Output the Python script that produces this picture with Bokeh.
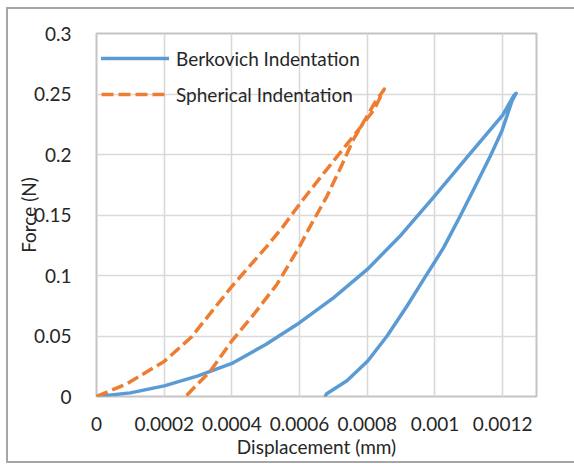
from bokeh.plotting import figure
from bokeh.models import FixedTicker, Legend, LegendItem
from bokeh.embed import file_html
from bokeh.resources import INLINE

# ---- data ----
berk_load_x = [0, 0.0001, 0.0002, 0.0003, 0.0004, 0.0005, 0.0006, 0.0007,
               0.0008, 0.0009, 0.001, 0.0011, 0.0012, 0.001233, 0.00124]
berk_load_y = [0, 0.003, 0.0088, 0.017, 0.0273, 0.043, 0.061, 0.0815,
               0.105, 0.1335, 0.166, 0.1995, 0.2325, 0.2487, 0.2506]

berk_unload_x = [0.00124, 0.001228, 0.001198, 0.001164, 0.001115, 0.001075,
                 0.001026, 0.001001, 0.000967, 0.000918, 0.000859, 0.000802,
                 0.00074, 0.000679, 0.000676]
berk_unload_y = [0.2506, 0.2445, 0.2197, 0.199, 0.1715, 0.1494,
                 0.1232, 0.112, 0.097, 0.075, 0.0502, 0.0295,
                 0.013, 0.002, 0.0]

sph_load_x = [0, 0.00009, 0.0002, 0.00028, 0.0004, 0.0005, 0.00055, 0.0006,
              0.00065, 0.00072, 0.00078, 0.00082, 0.00085]
sph_load_y = [0, 0.0105, 0.029, 0.049, 0.091, 0.123, 0.140, 0.159,
              0.177, 0.2015, 0.2225, 0.237, 0.254]

sph_unload_x = [0.00085, 0.00082, 0.0008, 0.00076, 0.000726, 0.00068, 0.00063,
                0.0006, 0.000534, 0.000465, 0.0004, 0.000337, 0.000263]
sph_unload_y = [0.254, 0.2418, 0.232, 0.213, 0.192, 0.165, 0.140,
                0.124, 0.093, 0.068, 0.046, 0.0212, 0.0]

series_names = ["Berkovich Indentation", "Spherical Indentation"]
series_colors = ["#5B9BD5", "#ED7D31"]

x_ticks = [0, 0.0002, 0.0004, 0.0006, 0.0008, 0.001, 0.0012]
x_tick_labels = ["0", "0.0002", "0.0004", "0.0006", "0.0008", "0.001", "0.0012"]
y_ticks = [0, 0.05, 0.1, 0.15, 0.2, 0.25, 0.3]
y_tick_labels = ["0", "0.05", "0.1", "0.15", "0.2", "0.25", "0.3"]

x_title = "Displacement (mm)"
y_title = "Force (N)"

FONT = "Lato"
FS = "19px"
TXT = "#262626"

# outer chart-area frame (left, top and bottom edges visible in the window)
outer_css = """
:host { position: relative; }
:host::after {
  content: "";
  position: absolute;
  left: 6px; top: 7px;
  width: 568px; height: 456px;
  box-sizing: border-box;
  border-left: 2.5px solid #a6a6a6;
  border-top: 2.5px solid #a6a6a6;
  border-bottom: 2.5px solid #a6a6a6;
  pointer-events: none;
}
"""

p = figure(width=574, height=464, x_range=(0, 0.0013), y_range=(0, 0.3),
           output_backend="svg", toolbar_location=None,
           min_border_left=96, min_border_right=38,
           min_border_top=33, min_border_bottom=68,
           background_fill_color="white", border_fill_color="white",
           stylesheets=[outer_css])

p.outline_line_color = "#c4c4c4"
p.outline_line_width = 2

for g in (p.xgrid, p.ygrid):
    g.grid_line_color = "#d9d9d9"
    g.grid_line_width = 1.6

p.xaxis.ticker = FixedTicker(ticks=x_ticks)
p.yaxis.ticker = FixedTicker(ticks=y_ticks)
p.xaxis.major_label_overrides = dict(zip(x_ticks, x_tick_labels))
p.yaxis.major_label_overrides = dict(zip(y_ticks, y_tick_labels))

for ax in (p.xaxis, p.yaxis):
    ax.axis_line_color = None
    ax.major_tick_line_color = None
    ax.minor_tick_line_color = None
    ax.major_label_text_font = FONT
    ax.major_label_text_font_size = FS
    ax.major_label_text_color = TXT
    ax.axis_label_text_font = FONT
    ax.axis_label_text_font_size = FS
    ax.axis_label_text_font_style = "normal"
    ax.axis_label_text_color = TXT

p.xaxis.major_label_standoff = 14
p.yaxis.major_label_standoff = 19
p.xaxis.axis_label = x_title
p.xaxis.axis_label_standoff = 1
p.yaxis.axis_label = y_title
p.yaxis.axis_label_standoff = -9

r1 = p.line(berk_load_x + berk_unload_x, berk_load_y + berk_unload_y,
            line_color=series_colors[0], line_width=3.5, line_join="round",
            line_cap="round")
r2 = p.line(sph_load_x + sph_unload_x, sph_load_y + sph_unload_y,
            line_color=series_colors[1], line_width=3.5, line_dash="12 5",
            line_join="round")

legend = Legend(items=[LegendItem(label=series_names[0], renderers=[r1]),
                       LegendItem(label=series_names[1], renderers=[r2])],
                location=(0, 282), margin=0, padding=5, spacing=6,
                glyph_width=68, glyph_height=30, label_height=30,
                label_standoff=7, label_text_font=FONT,
                label_text_font_size=FS, label_text_color=TXT,
                background_fill_alpha=0, border_line_alpha=0)
p.add_layout(legend)

open("out.html", "w").write(file_html(p, INLINE))
